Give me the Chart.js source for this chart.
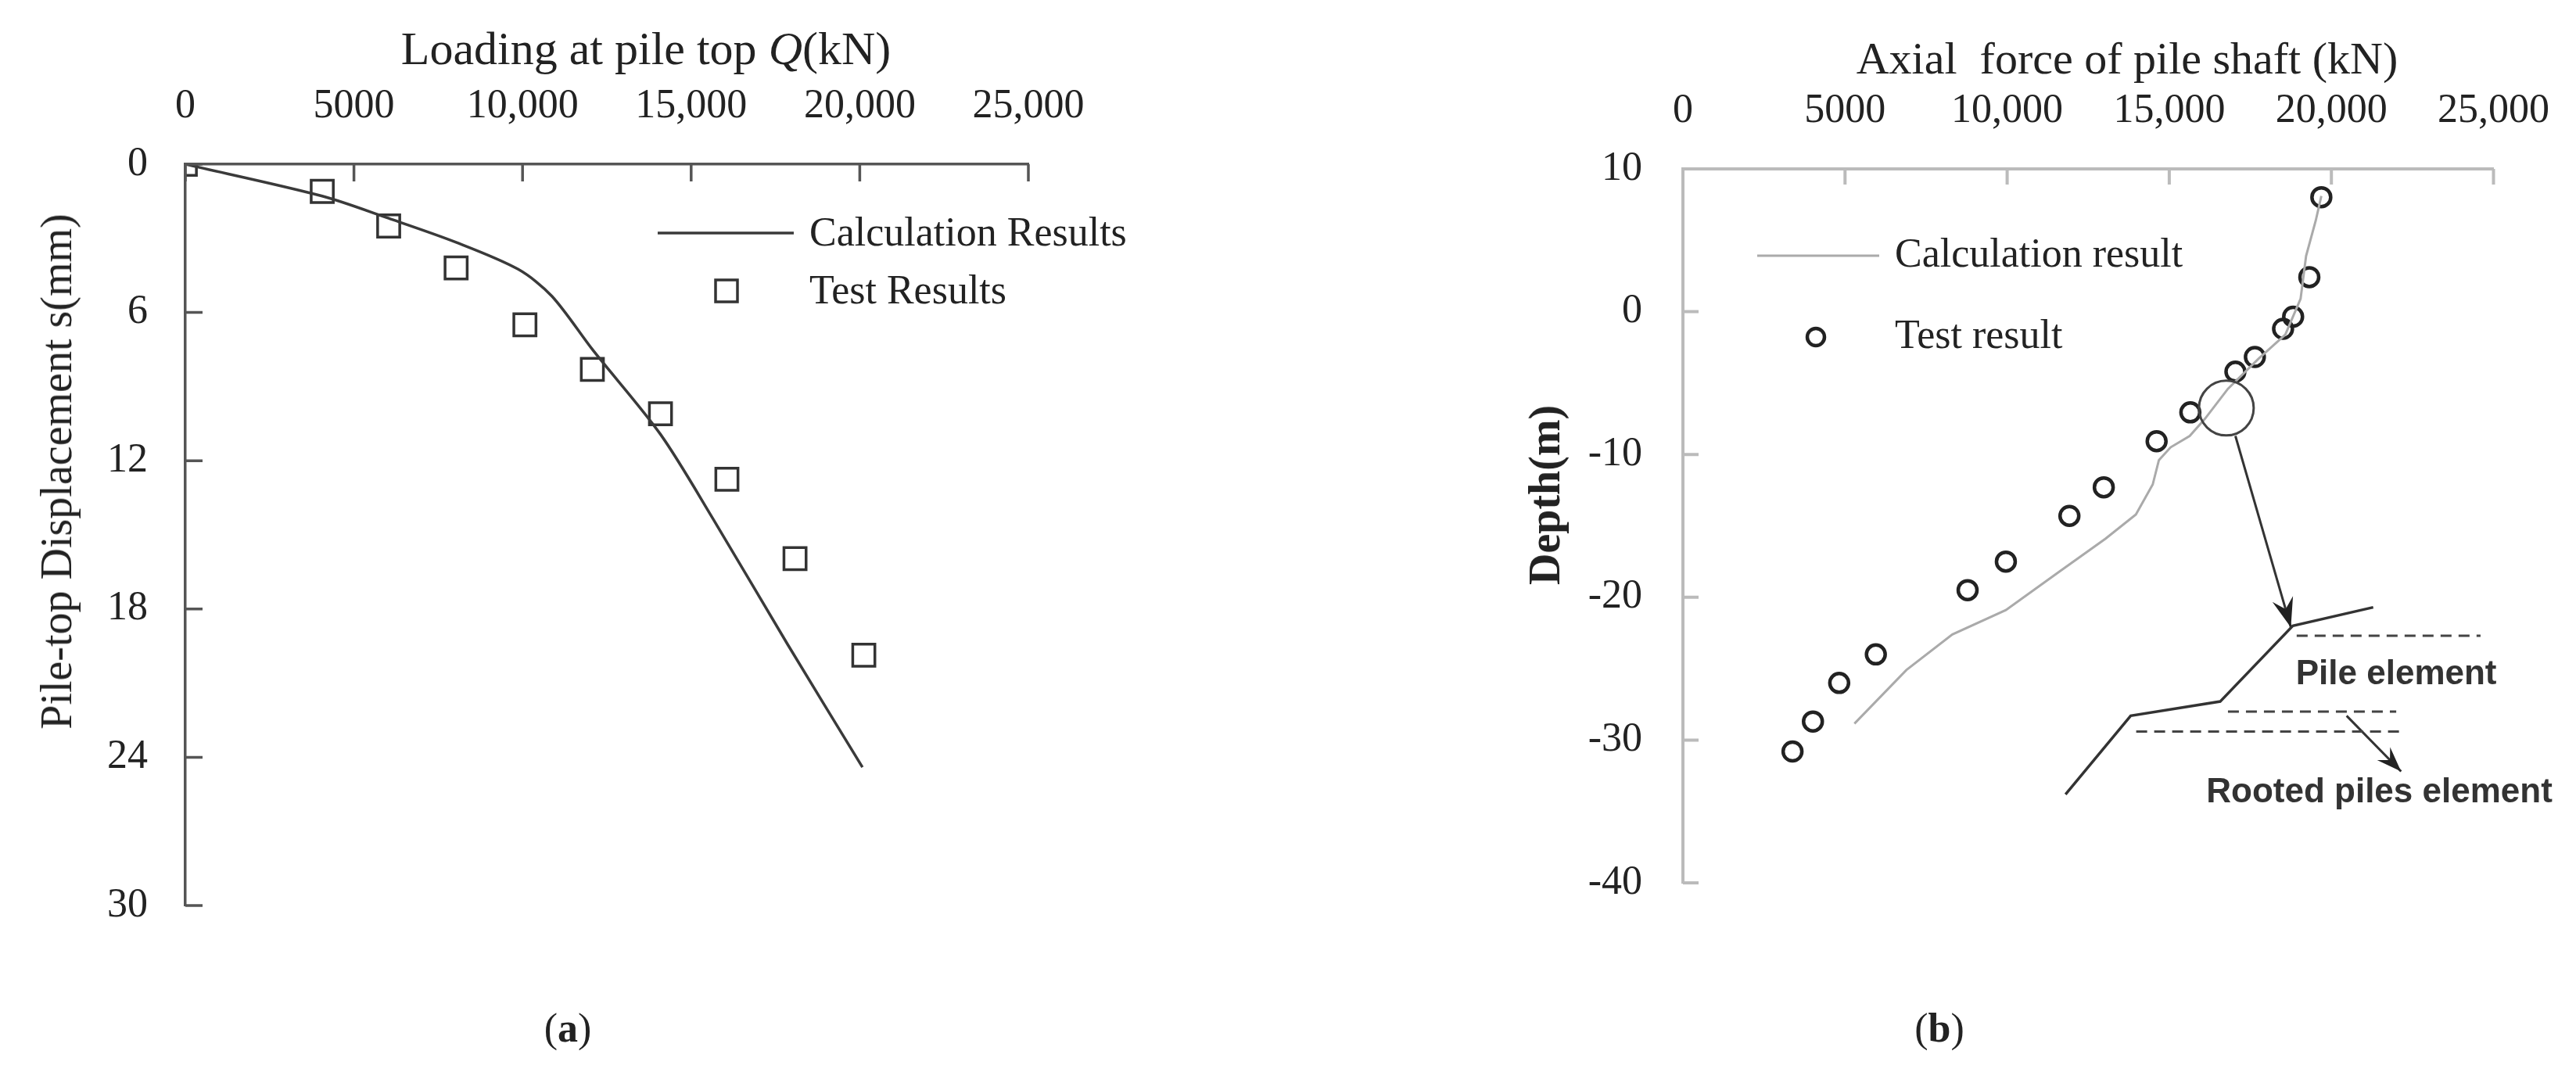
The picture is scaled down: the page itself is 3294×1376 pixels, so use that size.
<!DOCTYPE html>
<html><head><meta charset="utf-8">
<script src="https://cdn.jsdelivr.net/npm/chart.js@4"></script>
<style>
body{margin:0;background:#fff;width:3294px;height:1376px;position:relative;overflow:hidden;font-family:"Liberation Serif",serif;color:#222}
canvas{position:absolute;top:0}
.t{position:absolute;white-space:pre;transform:translate(-50%,-50%);}
</style></head><body>
<canvas id="c1" style="left:0;width:1650px;height:1250px" width="1650" height="1250"></canvas>
<canvas id="c2" style="left:1650px;width:1644px;height:1250px" width="1644" height="1250"></canvas>
<div class="t" style="left:826px;top:62px;font-size:60px">Loading at pile top <i>Q</i>(kN)</div>
<div class="t" style="left:2720px;top:74px;font-size:58px">Axial  force of pile shaft (kN)</div>
<div class="t" style="left:72px;top:603px;font-size:56px;transform:translate(-50%,-50%) rotate(-90deg)">Pile-top Displacement s(mm)</div>
<div class="t" style="left:1975px;top:633px;font-size:56px;font-weight:bold;transform:translate(-50%,-50%) rotate(-90deg)">Depth(m)</div>
<div class="t" style="left:726px;top:1314px;font-size:52px">(<b>a</b>)</div>
<div class="t" style="left:2480px;top:1314px;font-size:52px">(<b>b</b>)</div>
<script>
// ---- data (a) ----
const loadTestQ = [0,4060,6030,8030,10070,12070,14090,16060,18080,20120];
const loadTestS = [0,1.1,2.5,4.2,6.5,8.3,10.1,12.75,15.96,19.87];
const loadCalcQ = [0,4060,6030,8030,9870,10870,12090,14090,15640,17860,20080];
const loadCalcS = [0,1.29,2.19,3.16,4.25,5.34,7.53,10.93,14.33,19.43,24.4];
const xTicksA = [0,5000,10000,15000,20000,25000];
const yTicksA = [0,6,12,18,24,30];
// ---- data (b) ----
const axTestN = [19690,19320,18820,18510,17640,17040,15650,14610,12980,11920,9960,8780,5950,4820,4010,3380];
const axTestD = [8.02,2.42,-0.35,-1.2,-3.17,-4.2,-7.05,-9.07,-12.3,-14.3,-17.5,-19.5,-24.0,-26.0,-28.7,-30.8];
const axCalcN = [5290,6890,8310,9960,11610,13030,13970,14490,14680,15040,15630,16100,16810,17750,18580,19050,19220,19520,19690];
const axCalcD = [-28.85,-25.1,-22.6,-20.9,-18.2,-15.9,-14.2,-12.1,-10.4,-9.5,-8.7,-7.5,-5.4,-3.3,-1.6,0.9,3.9,6.4,8.1];
const yTicksB = [-40,-30,-20,-10,0,10];
// annotation sketch (b), in data units
const sketchN = [21290,18810,16570,13810,11800];
const sketchD = [-20.7,-22.0,-27.3,-28.3,-33.8];

const pts=(xs,ys)=>xs.map((x,i)=>({x,y:ys[i]}));
const fmt=v=>v===0?'0':(v<10000?String(v):v.toLocaleString('en-US'));

function fixAxes(w,h){return {x:s=>{s.height=h},y:s=>{s.width=w}};}

function inwardTicks(color,len,lw){return {id:'inTicks',afterDraw(ch){
  const c=ch.ctx,a=ch.chartArea,x=ch.scales.x,y=ch.scales.y;
  c.save();c.strokeStyle=color;c.lineWidth=lw;c.beginPath();
  x.ticks.forEach(t=>{const p=x.getPixelForValue(t.value);c.moveTo(p,a.top);c.lineTo(p,a.top+len);});
  y.ticks.forEach(t=>{const p=y.getPixelForValue(t.value);c.moveTo(a.left,p);c.lineTo(a.left+len,p);});
  c.stroke();c.restore();}};}

const tickFont={family:'Liberation Serif',size:52};

// ---------- chart (a) ----------
const fa=fixAxes(237,210);
new Chart(document.getElementById('c1'),{
 type:'scatter',
 data:{datasets:[
  {data:pts(loadCalcQ,loadCalcS),showLine:true,borderColor:'#3a3a3a',borderWidth:3.5,pointRadius:0,tension:0.3},
  {data:pts(loadTestQ,loadTestS),pointStyle:'rect',pointRadius:20,borderColor:'#333',borderWidth:3.5,backgroundColor:'rgba(0,0,0,0)'}
 ]},
 options:{responsive:false,animation:false,devicePixelRatio:1,
  layout:{padding:{left:0,top:0,right:335,bottom:92}},
  plugins:{legend:{display:false},tooltip:{enabled:false}},
  scales:{
   x:{type:'linear',position:'top',min:0,max:25000,afterFit:fa.x,
      afterBuildTicks:s=>{s.ticks=xTicksA.map(v=>({value:v}))},
      grid:{display:false},border:{display:true,color:'#555',width:3.5},
      ticks:{callback:fmt,font:tickFont,color:'#222',padding:34,maxRotation:0,autoSkip:false}},
   y:{type:'linear',reverse:true,min:0,max:30,afterFit:fa.y,
      afterBuildTicks:s=>{s.ticks=yTicksA.map(v=>({value:v}))},
      grid:{display:false},border:{display:true,color:'#555',width:3.5},
      ticks:{font:tickFont,color:'#222',padding:40,autoSkip:false}}
  }},
 plugins:[inwardTicks('#555',22,3.5),{id:'leg',afterDraw(ch){
   const c=ch.ctx;c.save();
   c.strokeStyle='#3a3a3a';c.lineWidth=3.5;c.beginPath();c.moveTo(841,298);c.lineTo(1015,298);c.stroke();
   c.strokeStyle='#333';c.strokeRect(915,358,28,28);
   c.fillStyle='#222';c.font='52px "Liberation Serif"';c.textBaseline='middle';
   c.fillText('Calculation Results',1035,300);c.fillText('Test Results',1035,374);c.restore();}}]
});

// ---------- chart (b) ----------
const fb=fixAxes(502,216);
new Chart(document.getElementById('c2'),{
 type:'scatter',
 data:{datasets:[
  {data:pts(axCalcN,axCalcD),showLine:true,borderColor:'#aaa',borderWidth:3,pointRadius:0},
  {data:pts(axTestN,axTestD),pointStyle:'circle',pointRadius:12,borderColor:'#222',borderWidth:4.5,backgroundColor:'rgba(0,0,0,0)'}
 ]},
 options:{responsive:false,animation:false,devicePixelRatio:1,
  layout:{padding:{left:0,top:0,right:101,bottom:121}},
  plugins:{legend:{display:false},tooltip:{enabled:false}},
  scales:{
   x:{type:'linear',position:'top',min:0,max:25000,afterFit:fb.x,
      afterBuildTicks:s=>{s.ticks=xTicksA.map(v=>({value:v}))},
      grid:{display:false},border:{display:true,color:'#bbb',width:4},
      ticks:{callback:fmt,font:tickFont,color:'#222',padding:34,maxRotation:0,autoSkip:false}},
   y:{type:'linear',min:-40,max:10,afterFit:fb.y,
      afterBuildTicks:s=>{s.ticks=yTicksB.map(v=>({value:v}))},
      grid:{display:false},border:{display:true,color:'#bbb',width:4},
      ticks:{font:tickFont,color:'#222',padding:44,autoSkip:false}}
  }},
 plugins:[inwardTicks('#bbb',20,4),{id:'ann',afterDraw(ch){
   const c=ch.ctx,x=ch.scales.x,y=ch.scales.y,X=v=>x.getPixelForValue(v),Y=v=>y.getPixelForValue(v);
   c.save();
   // legend
   c.strokeStyle='#aaa';c.lineWidth=3;c.beginPath();c.moveTo(597,327);c.lineTo(753,327);c.stroke();
   c.strokeStyle='#222';c.lineWidth=4.5;c.beginPath();c.arc(672,431,11,0,Math.PI*2);c.stroke();
   c.fillStyle='#222';c.font='52px "Liberation Serif"';c.textBaseline='middle';
   c.fillText('Calculation result',773,327);c.fillText('Test result',773,431);
   // magnifier circle
   c.strokeStyle='#444';c.lineWidth=3;c.beginPath();c.arc(X(16760),Y(-6.75),35,0,Math.PI*2);c.stroke();
   // arrows
   const arrow=(x1,y1,x2,y2,hl)=>{c.beginPath();c.moveTo(x1,y1);c.lineTo(x2,y2);c.stroke();
     const ang=Math.atan2(y2-y1,x2-x1);c.beginPath();c.moveTo(x2,y2);
     c.lineTo(x2-hl*Math.cos(ang-0.35),y2-hl*Math.sin(ang-0.35));
     c.lineTo(x2-hl*0.6*Math.cos(ang),y2-hl*0.6*Math.sin(ang));
     c.lineTo(x2-hl*Math.cos(ang+0.35),y2-hl*Math.sin(ang+0.35));c.closePath();c.fillStyle='#222';c.fill();};
   c.strokeStyle='#333';c.lineWidth=3;
   arrow(X(17040),Y(-8.7),X(18750),Y(-22.1),40);
   arrow(X(20470),Y(-28.3),X(22150),Y(-32.2),34);
   // sketch polyline
   c.strokeStyle='#333';c.lineWidth=3.5;c.beginPath();
   sketchN.forEach((n,i)=>{i?c.lineTo(X(n),Y(sketchD[i])):c.moveTo(X(n),Y(sketchD[i]))});c.stroke();
   // dashed lines
   c.setLineDash([14,9]);c.lineWidth=3;c.strokeStyle='#444';
   [[18930,24600,-22.7],[16810,22000,-28.0],[13980,22240,-29.4]].forEach(d=>{c.beginPath();c.moveTo(X(d[0]),Y(d[2]));c.lineTo(X(d[1]),Y(d[2]));c.stroke();});
   c.setLineDash([]);
   c.fillStyle='#333';c.font='bold 44px "Liberation Sans Narrow","Liberation Sans",sans-serif';c.textAlign='center';
   try{c.fontStretch='condensed';}catch(e){}
   c.fillText('Pile element',X(22000),Y(-25.4));
   c.fillText('Rooted piles element',X(21480),Y(-33.7));
   c.restore();}}]
});
</script></body></html>
